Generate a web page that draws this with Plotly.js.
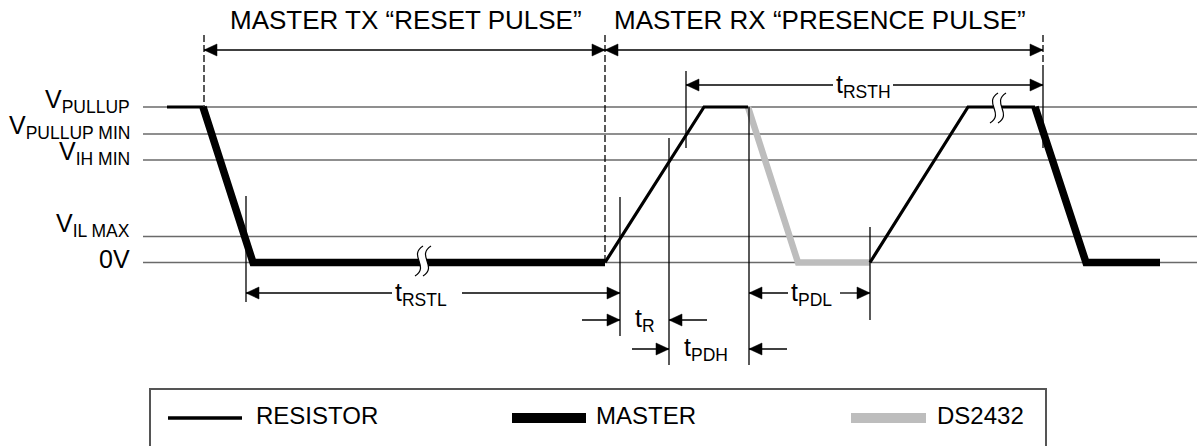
<!DOCTYPE html>
<html>
<head>
<meta charset="utf-8">
<script src="https://cdn.plot.ly/plotly-3.0.1.min.js"></script>
<style>html,body{margin:0;padding:0;background:#fff;}#chart{width:1197px;height:446px;}</style>
</head>
<body>
<div id="chart"></div>
<script>
// ---------- DATA ----------
// Voltage levels (names and their vertical position on the diagram scale)
const levelNames = ['V<sub>PULLUP</sub>', 'V<sub>PULLUP MIN</sub>', 'V<sub>IH MIN</sub>', 'V<sub>IL MAX</sub>', '0V'];
const levelY     = [107, 134, 160, 236.5, 262.5];
const levelLabelY = [101, 127, 153, 225, 259];

// Waveform segments (time on x, level on y); null separates pieces
const resistorX = [167, 203, null, 605, 704, 748, null, 870, 968, 1035];
const resistorY = [107, 107, null, 262.5, 107, 107, null, 262.5, 107, 107];
const masterX   = [203, 253, 605, null, 1035, 1086, 1160];
const masterY   = [107, 262.5, 262.5, null, 107, 262.5, 262.5];
const ds2432X   = [748, 798, 870];
const ds2432Y   = [107, 262.5, 262.5];

// Section titles
const sectionTitles = ['MASTER TX \u201CRESET PULSE\u201D', 'MASTER RX \u201CPRESENCE PULSE\u201D'];
const sectionTitleX = [406, 820];

// Timing reference lines
const guideX  = [246, 620, 669, 749, 870, 686, 1043];
const guideY0 = [196, 197, 138, 107, 227, 71, 68];
const guideY1 = [302, 336, 365, 365, 320, 148, 148];
const dashX   = [204, 605, 1043];
const dashY0  = [35, 35, 35];
const dashY1  = [107, 263, 68];

// Dimension arrows (heads at both ends, optional gap for the label)
const dimY     = [50, 50, 85, 293, 293];
const dimX0    = [204, 605, 686, 246, 749];
const dimX1    = [605, 1043, 1043, 620, 870];
const dimGap0  = [null, null, 833, 392, 788];
const dimGap1  = [null, null, 893, 462, 840];
const dimLabel = [null, null, 'RSTH', 'RSTL', 'PDL'];
const dimLabelX = [null, null, 863, 421, 811];

// Inward arrows (pointing at two reference lines from outside)
const inY        = [320, 349];
const inLeftTail = [582, 632];
const inLeftHead = [620, 669];
const inRightTail= [707, 787];
const inRightHead= [669, 749];
const inLabel    = ['R', 'PDH'];
const inLabelX   = [645, 706];

// Break marks
const breakX = [423, 998];
const breakY = [261, 108];

// Legend
const legendNames = ['RESISTOR', 'MASTER', 'DS2432'];
const legendX0 = [168, 512, 851];
const legendX1 = [242, 586, 926];
const legendTextX = [254, 594, 935];

// ---------- STYLE ----------
const FONT = 'Liberation Sans, Arial, Helvetica, sans-serif';
const GRID = '#6a6a6a';
const DSCOL = '#bdbdbd';
const legendWidths = [3.5, 10, 10];
const legendColors = ['#000', '#000', DSCOL];

const shapes = [];
const annotations = [];

// level lines + labels
levelY.forEach((y, i) => {
  shapes.push({type: 'line', layer: 'below', xref: 'x', yref: 'y', x0: 143, x1: 1197, y0: y, y1: y,
               line: {color: GRID, width: 1.5}});
  annotations.push({x: 132, y: levelLabelY[i], xref: 'x', yref: 'y', xanchor: 'right', yanchor: 'middle',
                    text: levelNames[i], showarrow: false, font: {family: FONT, size: 25, color: '#000'}});
});

// guides
guideX.forEach((x, i) => shapes.push({type: 'line', x0: x, x1: x, y0: guideY0[i], y1: guideY1[i],
  line: {color: '#000', width: 1.3}}));
dashX.forEach((x, i) => shapes.push({type: 'line', x0: x, x1: x, y0: dashY0[i], y1: dashY1[i],
  line: {color: '#000', width: 1.3, dash: '7px,3px'}}));

function head(xt, y, dir) { // dir = -1 points left, +1 points right
  const L = 13, H = 6;
  const xb = xt - dir * L;
  return {type: 'path', path: `M ${xt} ${y} L ${xb} ${y - H} L ${xb} ${y + H} Z`,
          fillcolor: '#000', line: {color: '#000', width: 0.5}};
}
function seg(xa, xb, y) {
  return {type: 'line', x0: xa, x1: xb, y0: y, y1: y, line: {color: '#000', width: 1.3}};
}
function label(sub, x, y) {
  annotations.push({x: x, y: y, xanchor: 'center', yanchor: 'middle', showarrow: false,
    text: 't<sub>' + sub + '</sub>', font: {family: FONT, size: 25, color: '#000'}});
}

dimY.forEach((y, i) => {
  if (dimGap0[i] === null) {
    shapes.push(seg(dimX0[i], dimX1[i], y));
  } else {
    shapes.push(seg(dimX0[i], dimGap0[i], y));
    shapes.push(seg(dimGap1[i], dimX1[i], y));
    label(dimLabel[i], dimLabelX[i], y + 1);
  }
  shapes.push(head(dimX0[i], y, -1));
  shapes.push(head(dimX1[i], y, 1));
});

inY.forEach((y, i) => {
  shapes.push(seg(inLeftTail[i], inLeftHead[i], y));
  shapes.push(head(inLeftHead[i], y, 1));
  shapes.push(seg(inRightTail[i], inRightHead[i], y));
  shapes.push(head(inRightHead[i], y, -1));
  label(inLabel[i], inLabelX[i], y);
});

// break marks
function curve(cx, cy, h) {
  const a = h / 2;
  return [[cx + 4, cy - a], [cx - 11, cy - a * 0.35], [cx + 11, cy + a * 0.35], [cx - 4, cy + a]];
}
breakX.forEach((cx, i) => {
  const cy = breakY[i];
  const c1 = curve(cx - 4, cy, 30), c2 = curve(cx + 4, cy, 30);
  const p = (c) => `M ${c[0][0]} ${c[0][1]} C ${c[1][0]} ${c[1][1]} ${c[2][0]} ${c[2][1]} ${c[3][0]} ${c[3][1]}`;
  shapes.push({type: 'path', path: p(c1) + ` L ${c2[3][0]} ${c2[3][1]} C ${c2[2][0]} ${c2[2][1]} ${c2[1][0]} ${c2[1][1]} ${c2[0][0]} ${c2[0][1]} Z`,
    fillcolor: '#fff', line: {width: 0}});
  shapes.push({type: 'path', path: p(c1), line: {color: '#000', width: 1.2}});
  shapes.push({type: 'path', path: p(c2), line: {color: '#000', width: 1.2}});
});

// section titles
sectionTitles.forEach((t, i) => annotations.push({x: sectionTitleX[i], y: 20, xanchor: 'center', yanchor: 'middle',
  showarrow: false, text: t, font: {family: FONT, size: 26, color: '#000'}}));

// legend box and items
shapes.push({type: 'rect', x0: 150, x1: 1046, y0: 389, y1: 470, line: {color: '#555', width: 2}, fillcolor: 'rgba(0,0,0,0)'});
legendNames.forEach((n, i) => {
  shapes.push({type: 'line', x0: legendX0[i], x1: legendX1[i], y0: 418, y1: 418,
    line: {color: legendColors[i], width: legendWidths[i]}});
  annotations.push({x: legendTextX[i], y: 415, xanchor: 'left', yanchor: 'middle', showarrow: false,
    text: n, font: {family: FONT, size: 24, color: '#000'}});
});

const traces = [
  {x: ds2432X, y: ds2432Y, mode: 'lines', name: 'DS2432', line: {color: DSCOL, width: 6.5}, hoverinfo: 'skip'},
  {x: resistorX, y: resistorY, mode: 'lines', name: 'RESISTOR', line: {color: '#000', width: 3.2}, hoverinfo: 'skip', connectgaps: false},
  {x: masterX, y: masterY, mode: 'lines', name: 'MASTER', line: {color: '#000', width: 7.5}, hoverinfo: 'skip', connectgaps: false}
];

const layout = {
  width: 1197, height: 446,
  margin: {l: 0, r: 0, t: 0, b: 0},
  paper_bgcolor: '#fff', plot_bgcolor: '#fff',
  showlegend: false,
  xaxis: {range: [0, 1197], visible: false, fixedrange: true},
  yaxis: {range: [446, 0], visible: false, fixedrange: true},
  shapes: shapes,
  annotations: annotations
};

Plotly.newPlot('chart', traces, layout, {displayModeBar: false, staticPlot: true});
</script>
</body>
</html>
